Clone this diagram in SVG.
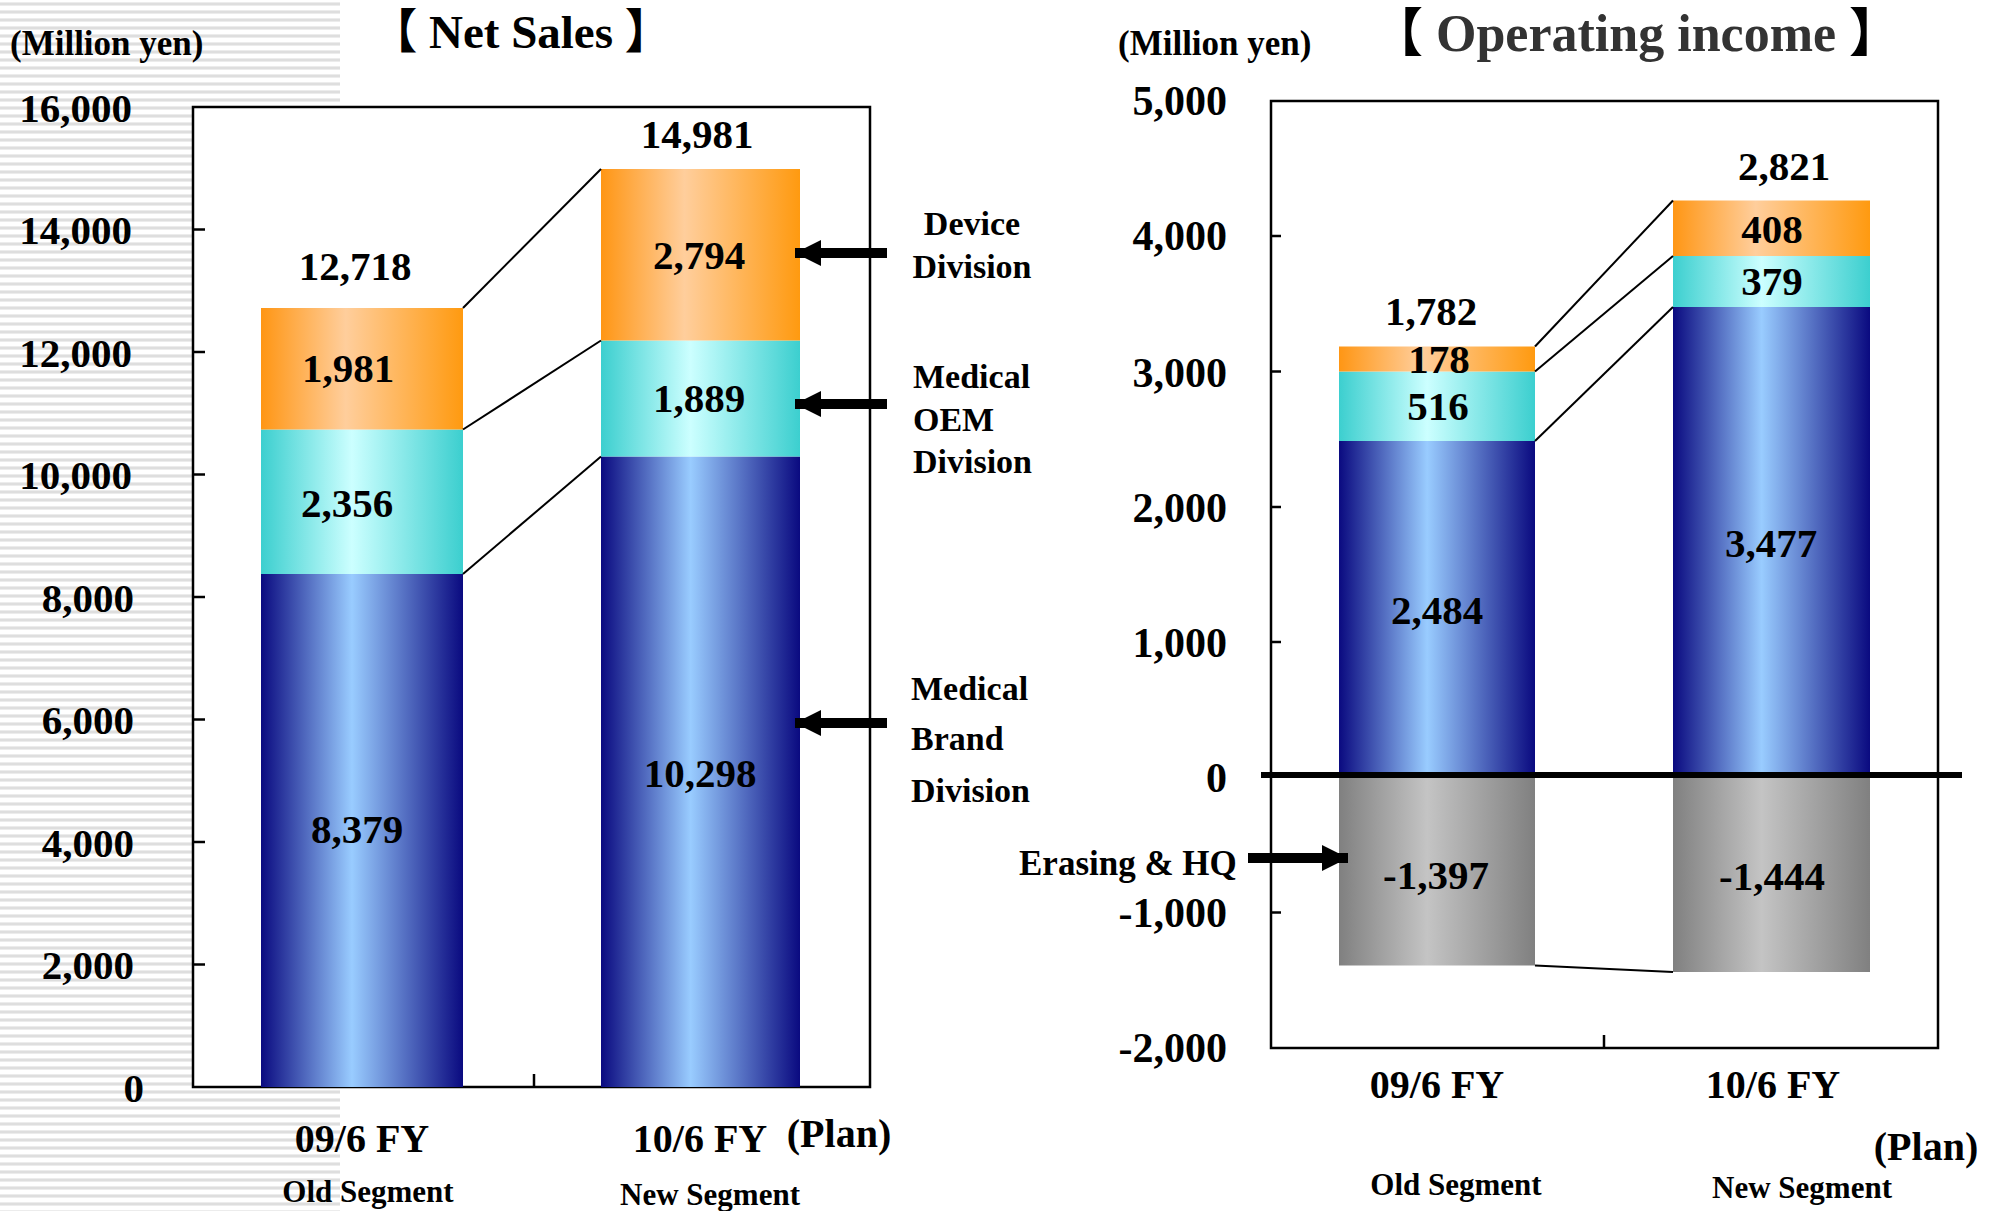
<svg xmlns="http://www.w3.org/2000/svg" width="1999" height="1211" viewBox="0 0 1999 1211">
<defs>
<pattern id="stripes" x="0" y="0" width="8" height="8" patternUnits="userSpaceOnUse">
<rect x="0" y="0" width="8" height="8" fill="#ffffff"/>
<rect x="0" y="2" width="8" height="1" fill="#ececec"/>
<rect x="0" y="3" width="8" height="2" fill="#dedede"/>
<rect x="0" y="5" width="8" height="1" fill="#ececec"/>
</pattern>
<linearGradient id="gOrange" x1="0" y1="0" x2="1" y2="0">
<stop offset="0" stop-color="#FF9614"/>
<stop offset="0.42" stop-color="#FFCE9C"/>
<stop offset="1" stop-color="#FF9A10"/>
</linearGradient>
<linearGradient id="gTeal" x1="0" y1="0" x2="1" y2="0">
<stop offset="0" stop-color="#3CCFCF"/>
<stop offset="0.45" stop-color="#CCFFFF"/>
<stop offset="1" stop-color="#3CCFCF"/>
</linearGradient>
<linearGradient id="gBlue" x1="0" y1="0" x2="1" y2="0">
<stop offset="0" stop-color="#0A0A80"/>
<stop offset="0.45" stop-color="#99CCFF"/>
<stop offset="1" stop-color="#0A0A80"/>
</linearGradient>
<linearGradient id="gGray" x1="0" y1="0" x2="1" y2="0">
<stop offset="0" stop-color="#808080"/>
<stop offset="0.45" stop-color="#C4C4C4"/>
<stop offset="1" stop-color="#808080"/>
</linearGradient>
<marker id="arrowHead" viewBox="0 0 10 10" refX="10" refY="5" markerWidth="2.6" markerHeight="2.6" markerUnits="strokeWidth" orient="auto">
<path d="M0,0 L10,5 L0,10 Z" fill="#000"/>
</marker>
<style>
text { font-family: "Liberation Serif", "Times New Roman", serif; font-weight: bold; fill: #000; }
.val { font-size: 41px; text-anchor: middle; }
.tick { font-size: 41px; text-anchor: end; }
.unit { font-size: 35px; }
.cat { font-size: 40px; text-anchor: middle; }
.seg { font-size: 31px; text-anchor: middle; }
.div { font-size: 34px; }
.title { font-size: 47px; }
.br { font-family: "Noto Sans CJK JP", "Noto Sans CJK SC", sans-serif; }
.box { fill: #fff; stroke: #000; stroke-width: 2.5; }
.tk { stroke: #000; stroke-width: 2.5; }
.conn { stroke: #000; stroke-width: 2; fill: none; }
.arrow { stroke: #000; stroke-width: 10; fill: none; }
</style>
</defs>

<rect id="background" x="0" y="0" width="340" height="1211" fill="url(#stripes)"/>

<g id="netSalesChart">
<rect id="ns-plot" class="box" x="193" y="107" width="677" height="980"/>
<g id="ns-ticks">
<line class="tk" x1="193" y1="229.5" x2="205" y2="229.5"/>
<line class="tk" x1="193" y1="352" x2="205" y2="352"/>
<line class="tk" x1="193" y1="474.5" x2="205" y2="474.5"/>
<line class="tk" x1="193" y1="597" x2="205" y2="597"/>
<line class="tk" x1="193" y1="719.5" x2="205" y2="719.5"/>
<line class="tk" x1="193" y1="842" x2="205" y2="842"/>
<line class="tk" x1="193" y1="964.5" x2="205" y2="964.5"/>
<line class="tk" x1="534" y1="1074" x2="534" y2="1087"/>
</g>
<g id="ns-ylabels">
<text class="tick" x="132" y="122">16,000</text>
<text class="tick" x="132" y="244">14,000</text>
<text class="tick" x="132" y="367">12,000</text>
<text class="tick" x="132" y="489">10,000</text>
<text class="tick" x="134" y="612">8,000</text>
<text class="tick" x="134" y="734">6,000</text>
<text class="tick" x="134" y="857">4,000</text>
<text class="tick" x="134" y="979">2,000</text>
<text class="tick" x="144" y="1102">0</text>
</g>
<text id="ns-unit" class="unit" x="10" y="55">(Million yen)</text>
<text id="ns-title" class="title" x="521" y="48" text-anchor="middle"><tspan class="br">【</tspan> Net Sales <tspan class="br">】</tspan></text>
</g>

<g id="ns-bar1">
<rect id="ns-b1-brand" x="261" y="574" width="202" height="513" fill="url(#gBlue)"/>
<rect id="ns-b1-oem" x="261" y="429.5" width="202" height="144.5" fill="url(#gTeal)"/>
<rect id="ns-b1-device" x="261" y="308" width="202" height="121.5" fill="url(#gOrange)"/>
<text class="val" x="355" y="280">12,718</text>
<text class="val" x="348" y="382">1,981</text>
<text class="val" x="347" y="517">2,356</text>
<text class="val" x="357" y="843">8,379</text>
</g>

<g id="ns-bar2">
<rect id="ns-b2-brand" x="601" y="456.5" width="199" height="630.5" fill="url(#gBlue)"/>
<rect id="ns-b2-oem" x="601" y="340.5" width="199" height="116" fill="url(#gTeal)"/>
<rect id="ns-b2-device" x="601" y="169" width="199" height="171.5" fill="url(#gOrange)"/>
<text class="val" x="697" y="148">14,981</text>
<text class="val" x="699" y="269">2,794</text>
<text class="val" x="699" y="412">1,889</text>
<text class="val" x="700" y="787">10,298</text>
</g>

<g id="ns-xlabels">
<text class="cat" x="362" y="1152">09/6 FY</text>
<text class="cat" x="700" y="1152">10/6 FY</text>
<text class="cat" x="839" y="1147">(Plan)</text>
<text class="seg" x="368" y="1202">Old Segment</text>
<text class="seg" x="710" y="1205">New Segment</text>
</g>

<g id="division-labels">
<text class="div" x="972" y="235" text-anchor="middle">Device</text>
<text class="div" x="972" y="278" text-anchor="middle">Division</text>
<text class="div" x="913" y="388">Medical</text>
<text class="div" x="913" y="431">OEM</text>
<text class="div" x="913" y="473">Division</text>
<text class="div" x="911" y="700">Medical</text>
<text class="div" x="911" y="750">Brand</text>
<text class="div" x="911" y="802">Division</text>
</g>

<g id="opIncomeChart">
<rect id="oi-plot" class="box" x="1271" y="101" width="667" height="947"/>
<g id="oi-ticks">
<line class="tk" x1="1271" y1="236" x2="1281" y2="236"/>
<line class="tk" x1="1271" y1="371.5" x2="1281" y2="371.5"/>
<line class="tk" x1="1271" y1="507" x2="1281" y2="507"/>
<line class="tk" x1="1271" y1="642" x2="1281" y2="642"/>
<line class="tk" x1="1271" y1="912.5" x2="1281" y2="912.5"/>
<line class="tk" x1="1604" y1="1035" x2="1604" y2="1048"/>
</g>
<g id="oi-ylabels">
<text class="tick" x="1227" y="115" style="font-size:42px">5,000</text>
<text class="tick" x="1227" y="250" style="font-size:42px">4,000</text>
<text class="tick" x="1227" y="387" style="font-size:42px">3,000</text>
<text class="tick" x="1227" y="522" style="font-size:42px">2,000</text>
<text class="tick" x="1227" y="657" style="font-size:42px">1,000</text>
<text class="tick" x="1227" y="792" style="font-size:42px">0</text>
<text class="tick" x="1227" y="927" style="font-size:42px">-1,000</text>
<text class="tick" x="1227" y="1062" style="font-size:42px">-2,000</text>
</g>
<text id="oi-unit" class="unit" x="1118" y="55">(Million yen)</text>
<text id="oi-title" class="title" x="1636" y="51" text-anchor="middle" style="font-size:52px;fill:#333"><tspan class="br" style="fill:#000">【</tspan> Operating income <tspan class="br" style="fill:#000">】</tspan></text>
</g>

<g id="oi-bar1">
<rect id="oi-b1-brand" x="1339" y="441" width="196" height="335" fill="url(#gBlue)"/>
<rect id="oi-b1-oem" x="1339" y="371.5" width="196" height="69.5" fill="url(#gTeal)"/>
<rect id="oi-b1-device" x="1339" y="346.5" width="196" height="25" fill="url(#gOrange)"/>
<rect id="oi-b1-hq" x="1339" y="776" width="196" height="189.5" fill="url(#gGray)"/>
<text class="val" x="1431" y="325">1,782</text>
<text class="val" x="1439" y="373">178</text>
<text class="val" x="1438" y="420">516</text>
<text class="val" x="1437" y="624">2,484</text>
<text class="val" x="1436" y="889">-1,397</text>
</g>

<g id="oi-bar2">
<rect id="oi-b2-brand" x="1673" y="307" width="197" height="469" fill="url(#gBlue)"/>
<rect id="oi-b2-oem" x="1673" y="256" width="197" height="51" fill="url(#gTeal)"/>
<rect id="oi-b2-device" x="1673" y="200.5" width="197" height="55.5" fill="url(#gOrange)"/>
<rect id="oi-b2-hq" x="1673" y="776" width="197" height="196" fill="url(#gGray)"/>
<text class="val" x="1784" y="180">2,821</text>
<text class="val" x="1772" y="243">408</text>
<text class="val" x="1772" y="295">379</text>
<text class="val" x="1771" y="557">3,477</text>
<text class="val" x="1772" y="890">-1,444</text>
</g>

<line id="oi-zero" x1="1261" y1="775" x2="1962" y2="775" stroke="#000" stroke-width="6"/>

<g id="oi-xlabels">
<text class="cat" x="1437" y="1098">09/6 FY</text>
<text class="cat" x="1773" y="1098">10/6 FY</text>
<text class="cat" x="1926" y="1160">(Plan)</text>
<text class="seg" x="1456" y="1195">Old Segment</text>
<text class="seg" x="1802" y="1198">New Segment</text>
</g>

<text id="erasing-label" class="div" x="1019" y="875" style="font-size:35px">Erasing &amp; HQ</text>

<g id="connectors">
<line class="conn" x1="463" y1="308" x2="601" y2="169"/>
<line class="conn" x1="463" y1="429.5" x2="601" y2="340.5"/>
<line class="conn" x1="463" y1="574" x2="601" y2="456.5"/>
<line class="conn" x1="1535" y1="346.5" x2="1673" y2="200.5"/>
<line class="conn" x1="1535" y1="371.5" x2="1673" y2="256"/>
<line class="conn" x1="1535" y1="441" x2="1673" y2="307"/>
<line class="conn" x1="1535" y1="965.5" x2="1673" y2="972"/>
<line class="arrow" x1="887" y1="253" x2="795" y2="253" marker-end="url(#arrowHead)"/>
<line class="arrow" x1="887" y1="404" x2="795" y2="404" marker-end="url(#arrowHead)"/>
<line class="arrow" x1="887" y1="723" x2="795" y2="723" marker-end="url(#arrowHead)"/>
<line class="arrow" x1="1248" y1="858" x2="1348" y2="858" marker-end="url(#arrowHead)"/>
</g>
</svg>
